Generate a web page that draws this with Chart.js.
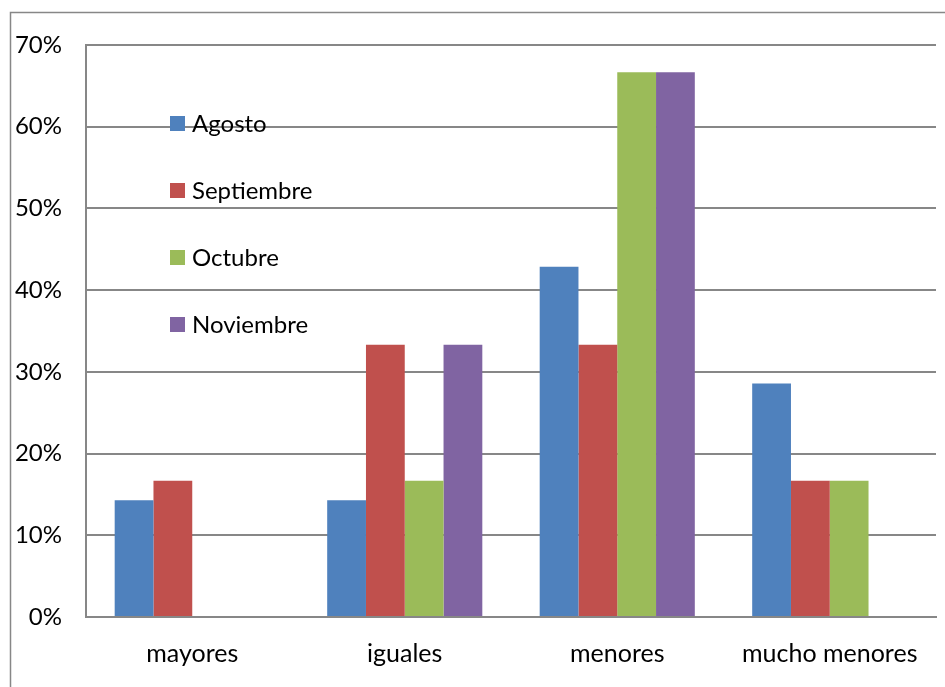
<!DOCTYPE html>
<html>
<head>
<meta charset="utf-8">
<script src="https://cdn.jsdelivr.net/npm/chart.js@4"></script>
<style>
  html, body { margin: 0; padding: 0; background: #fff; }
  #wrap { width: 945px; height: 687px; position: relative; }
</style>
</head>
<body>
<div id="wrap"><canvas id="chart" width="945" height="687"></canvas></div>
<script>
// -------------------------------
// DATA
// -------------------------------
const categories = ['mayores', 'iguales', 'menores', 'mucho menores'];
const months = ['Agosto', 'Septiembre', 'Octubre', 'Noviembre'];
const agosto = [14.29, 14.29, 42.86, 28.57];
const septiembre = [16.67, 33.33, 33.33, 16.67];
const octubre = [0, 16.67, 66.67, 16.67];
const noviembre = [0, 33.33, 66.67, 0];
const yTicks = [0, 10, 20, 30, 40, 50, 60, 70];

const colors = ['#4F81BD', '#C0504D', '#9BBB59', '#8064A2'];
const series = [agosto, septiembre, octubre, noviembre];

const FONT = 'Lato, "Open Sans", sans-serif';
const GRID = '#878787';

// frame around the chart (cropped at right and bottom)
const framePlugin = {
    id: 'frame',
    beforeDraw(chart) {
        const c = chart.ctx;
        c.save();
        c.strokeStyle = GRID;
        c.lineWidth = 1.5;
        c.beginPath();
        c.moveTo(10.5, 687);
        c.lineTo(10.5, 12.5);
        c.lineTo(945, 12.5);
        c.stroke();
        c.restore();
    }
};

// legend drawn inside the plot, like the original
const insideLegend = {
    id: 'insideLegend',
    afterDraw(chart) {
        const c = chart.ctx;
        const area = chart.chartArea;
        c.save();
        c.font = '24px ' + FONT;
        c.textBaseline = 'middle';
        chart.data.datasets.forEach((ds, i) => {
            const y = area.top + 78 + i * 67;
            const x = area.left + 84;
            c.fillStyle = ds.backgroundColor;
            c.fillRect(x, y - 7, 15, 15);
            c.fillStyle = '#000';
            c.fillText(ds.label, x + 22, y + 1);
        });
        c.restore();
    }
};

const ctx = document.getElementById('chart');

new Chart(ctx, {
    type: 'bar',
    data: {
        labels: categories,
        datasets: months.map((m, i) => ({
            label: m,
            data: series[i],
            backgroundColor: colors[i],
            borderWidth: 0,
            categoryPercentage: 0.73,
            barPercentage: 1
        }))
    },
    options: {
        responsive: false,
        animation: false,
        layout: { padding: { left: 10, top: 45, right: 9, bottom: 0 } },
        plugins: {
            legend: { display: false },
            tooltip: { enabled: false }
        },
        scales: {
            x: {
                grid: { display: false, drawTicks: false },
                border: { display: true, color: GRID, width: 2 },
                ticks: {
                    color: '#000',
                    padding: 22,
                    font: { family: FONT, size: 25 }
                },
                afterFit: s => { s.height = 70; }
            },
            y: {
                min: 0,
                max: 70,
                afterBuildTicks: s => { s.ticks = yTicks.map(v => ({ value: v })); },
                grid: { color: GRID, lineWidth: 2, drawTicks: false },
                border: { display: true, color: GRID, width: 2 },
                ticks: {
                    color: '#000',
                    padding: 24,
                    font: { family: FONT, size: 24 },
                    callback: v => v + '%'
                },
                afterFit: s => { s.width = 76; }
            }
        }
    },
    plugins: [framePlugin, insideLegend]
});
</script>
</body>
</html>
